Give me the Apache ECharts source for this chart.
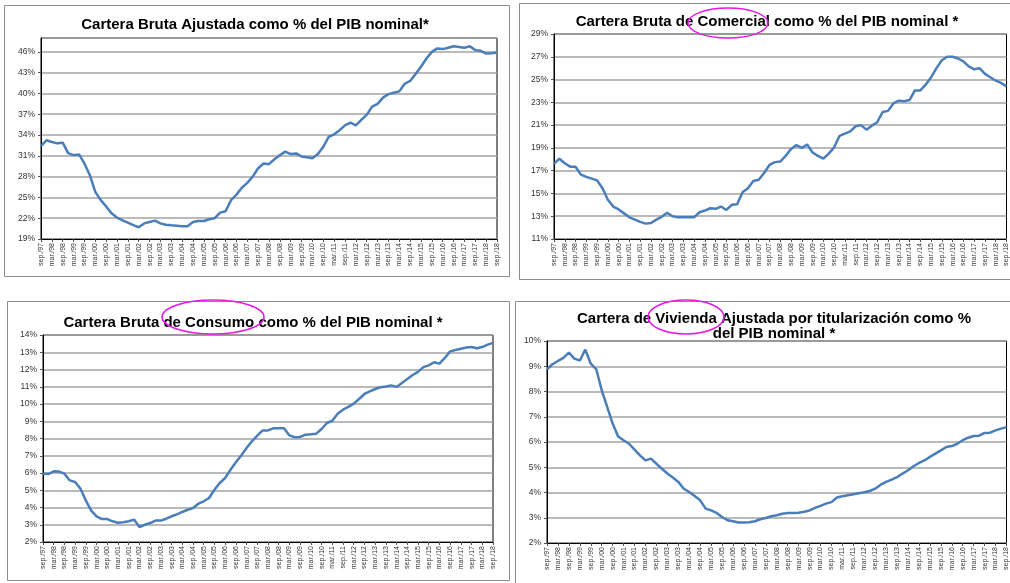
<!DOCTYPE html>
<html>
<head>
<meta charset="utf-8">
<script src="https://cdn.jsdelivr.net/npm/echarts@6/dist/echarts.min.js"></script>
<style>
  html, body { margin: 0; padding: 0; background: #fff; overflow: hidden; }
  #chart { width: 1010px; height: 583px; }
</style>
</head>
<body>
<div id="chart"></div>
<script>
// Quarterly categories, sep./97 .. sep./18 (only sep and mar are labelled)
var quarters = [
    'sep./97', 'dic./97', 'mar./98', 'jun./98', 'sep./98', 'dic./98', 'mar./99', 'jun./99', 'sep./99', 'dic./99',
    'mar./00', 'jun./00', 'sep./00', 'dic./00', 'mar./01', 'jun./01', 'sep./01', 'dic./01', 'mar./02', 'jun./02',
    'sep./02', 'dic./02', 'mar./03', 'jun./03', 'sep./03', 'dic./03', 'mar./04', 'jun./04', 'sep./04', 'dic./04',
    'mar./05', 'jun./05', 'sep./05', 'dic./05', 'mar./06', 'jun./06', 'sep./06', 'dic./06', 'mar./07', 'jun./07',
    'sep./07', 'dic./07', 'mar./08', 'jun./08', 'sep./08', 'dic./08', 'mar./09', 'jun./09', 'sep./09', 'dic./09',
    'mar./10', 'jun./10', 'sep./10', 'dic./10', 'mar./11', 'jun./11', 'sep./11', 'dic./11', 'mar./12', 'jun./12',
    'sep./12', 'dic./12', 'mar./13', 'jun./13', 'sep./13', 'dic./13', 'mar./14', 'jun./14', 'sep./14', 'dic./14',
    'mar./15', 'jun./15', 'sep./15', 'dic./15', 'mar./16', 'jun./16', 'sep./16', 'dic./16', 'mar./17', 'jun./17',
    'sep./17', 'dic./17', 'mar./18', 'jun./18', 'sep./18'
];

// % del PIB nominal
var carteraAjustada = [
    32.4, 33.25, 33.0, 32.8, 32.9, 31.4, 31.1, 31.2, 29.9, 28.2,
    25.8, 24.6, 23.7, 22.7, 22.1, 21.7, 21.35, 21.0, 20.7, 21.25,
    21.45, 21.65, 21.25, 21.05, 20.97, 20.92, 20.83, 20.85, 21.45, 21.6,
    21.6, 21.85, 22.0, 22.8, 23.0, 24.6, 25.4, 26.4, 27.1, 28.0,
    29.2, 29.9, 29.8, 30.5, 31.1, 31.6, 31.25, 31.35, 30.9, 30.8,
    30.65, 31.25, 32.3, 33.75, 34.1, 34.7, 35.4, 35.8, 35.4, 36.2,
    36.9, 38.1, 38.5, 39.4, 39.9, 40.1, 40.3, 41.4, 41.8, 42.8,
    43.85, 45.05, 46.0, 46.5, 46.4, 46.6, 46.8, 46.7, 46.6, 46.8,
    46.25, 46.15, 45.75, 45.8, 45.9
];
var carteraComercial = [
    17.6, 18.05, 17.65, 17.35, 17.35, 16.65, 16.45, 16.3, 16.15, 15.45,
    14.45, 13.85, 13.6, 13.25, 12.9, 12.7, 12.5, 12.35, 12.4, 12.7,
    12.95, 13.3, 13.0, 12.9, 12.9, 12.9, 12.9, 13.35, 13.5, 13.7,
    13.65, 13.85, 13.55, 14.0, 14.05, 15.1, 15.45, 16.1, 16.2, 16.8,
    17.5, 17.75, 17.8, 18.3, 18.9, 19.25, 19.0, 19.3, 18.6, 18.3,
    18.05, 18.5, 19.05, 20.05, 20.25, 20.45, 20.9, 21.0, 20.6, 20.95,
    21.25, 22.15, 22.25, 22.9, 23.15, 23.1, 23.2, 24.05, 24.05, 24.55,
    25.2, 26.0, 26.7, 27.0, 27.0, 26.85, 26.6, 26.15, 25.9, 26.0,
    25.5, 25.2, 24.9, 24.7, 24.4
];
var carteraConsumo = [
    5.96, 5.94, 6.1, 6.08, 5.96, 5.57, 5.48, 5.09, 4.4, 3.82,
    3.49, 3.33, 3.33, 3.2, 3.12, 3.14, 3.2, 3.3, 2.87, 3.0,
    3.1, 3.24, 3.24, 3.35, 3.49, 3.6, 3.74, 3.87, 3.97, 4.22,
    4.36, 4.55, 5.03, 5.42, 5.71, 6.19, 6.62, 7.02, 7.45, 7.84,
    8.16, 8.47, 8.47, 8.59, 8.59, 8.59, 8.18, 8.07, 8.09, 8.22,
    8.24, 8.28, 8.55, 8.9, 9.03, 9.44, 9.67, 9.83, 10.02, 10.29,
    10.58, 10.73, 10.87, 10.97, 11.02, 11.08, 10.99, 11.22, 11.45, 11.68,
    11.86, 12.14, 12.24, 12.42, 12.34, 12.67, 13.05, 13.13, 13.2, 13.27,
    13.3, 13.23, 13.3, 13.44, 13.54
];
var carteraVivienda = [
    8.88, 9.08, 9.21, 9.33, 9.54, 9.3, 9.23, 9.66, 9.1, 8.89,
    8.05, 7.39, 6.73, 6.22, 6.07, 5.93, 5.7, 5.47, 5.27, 5.34,
    5.14, 4.94, 4.75, 4.59, 4.42, 4.15, 4.02, 3.86, 3.69, 3.36,
    3.29, 3.19, 3.03, 2.9, 2.86, 2.81, 2.81, 2.82, 2.86, 2.94,
    2.99, 3.06, 3.1, 3.16, 3.19, 3.19, 3.2, 3.24, 3.29, 3.39,
    3.47, 3.56, 3.62, 3.8, 3.85, 3.89, 3.93, 3.97, 4.01, 4.06,
    4.15, 4.31, 4.42, 4.51, 4.61, 4.75, 4.88, 5.04, 5.17, 5.27,
    5.41, 5.54, 5.67, 5.8, 5.84, 5.93, 6.07, 6.17, 6.24, 6.25,
    6.36, 6.37, 6.46, 6.53, 6.59
];

var titles = [
    'Cartera Bruta Ajustada como % del PIB nominal*',
    'Cartera Bruta de Comercial como % del PIB nominal *',
    'Cartera Bruta de Consumo como % del PIB nominal *',
    'Cartera de Vivienda Ajustada por titularización como %\ndel PIB nominal *'
];

var font = "'Liberation Sans', Arial, sans-serif";
var blue = '#4a7ebb';

var myChart = echarts.init(document.getElementById('chart'));

// one panel = grid + axes + series
var panels = [
    { grid: { left: 41, top: 38, width: 456, height: 201 }, min: 19, max: 48, step: 3, data: carteraAjustada },
    { grid: { left: 554, top: 34, width: 453, height: 205 }, min: 11, max: 29, step: 2, data: carteraComercial },
    { grid: { left: 43, top: 335, width: 450, height: 207 }, min: 2, max: 14, step: 1, data: carteraConsumo },
    { grid: { left: 547, top: 341, width: 464, height: 202 }, min: 2, max: 10, step: 1, data: carteraVivienda }
];

var grids = [], xAxes = [], yAxes = [], series = [];
panels.forEach(function (p, i) {
    grids.push({
        left: p.grid.left, top: p.grid.top, width: p.grid.width, height: p.grid.height,
        show: true, borderColor: '#000', borderWidth: 1, containLabel: false
    });
    xAxes.push({
        type: 'category', gridIndex: i, data: quarters, boundaryGap: false,
        axisLine: { lineStyle: { color: '#000', width: 1 } },
        axisTick: { interval: 1, length: 3, lineStyle: { color: '#555' } },
        axisLabel: { interval: 1, rotate: 90, fontSize: 7, color: '#333', fontFamily: font, margin: 4 },
        splitLine: { show: false }
    });
    yAxes.push({
        type: 'value', gridIndex: i, min: p.min, max: p.max, interval: p.step,
        axisLine: { show: true, lineStyle: { color: '#000', width: 1 } },
        axisTick: { show: true, length: 3, lineStyle: { color: '#555' } },
        axisLabel: {
            fontSize: 8.5, color: '#333', fontFamily: font, margin: 6, showMaxLabel: (p.max - p.min) % p.step === 0,
            formatter: function (v) { return v + '%'; }
        },
        splitLine: { lineStyle: { color: '#a3a3a3', width: 1.5 } }
    });
    series.push({
        type: 'line', xAxisIndex: i, yAxisIndex: i, data: p.data,
        symbol: 'none', smooth: false,
        lineStyle: { color: blue, width: 2.5 }
    });
});

function frame(x, y, w, h) {
    return { type: 'rect', shape: { x: x, y: y, width: w, height: h },
        style: { fill: 'none', stroke: '#8c8c8c', lineWidth: 1 }, silent: true };
}
function heading(txt, x, y) {
    return { type: 'text', x: x, y: y, z: 10,
        style: { text: txt, fill: '#000', font: 'bold 15px ' + font, textAlign: 'center', textVerticalAlign: 'middle', lineHeight: 15 } };
}
function ring(cx, cy, rx, ry) {
    return { type: 'ellipse', shape: { cx: cx, cy: cy, rx: rx, ry: ry }, z: 20,
        style: { fill: 'none', stroke: '#e619e6', lineWidth: 1.5 }, silent: true };
}

var option = {
    animation: false,
    backgroundColor: '#fff',
    grid: grids,
    xAxis: xAxes,
    yAxis: yAxes,
    series: series,
    graphic: [
        frame(4.5, 5.5, 505, 271),
        frame(519.5, 3.5, 500, 276),
        frame(7.5, 301.5, 502, 279),
        frame(515.5, 301.5, 500, 300),
        heading(titles[0], 255, 25),
        heading(titles[1], 767, 22),
        heading(titles[2], 253, 323),
        heading(titles[3], 774, 326.5),
        ring(728, 23, 40, 15),
        ring(213, 317, 51, 17),
        ring(686, 317, 38, 17)
    ]
};

myChart.setOption(option);
</script>
</body>
</html>
